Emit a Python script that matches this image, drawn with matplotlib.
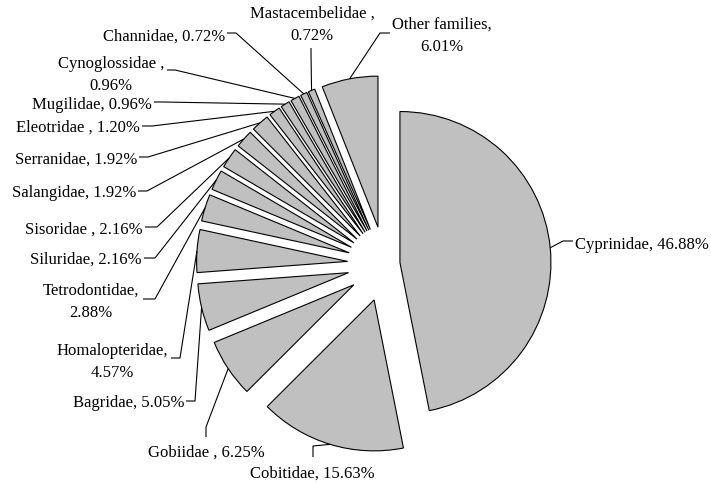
import numpy as np
import matplotlib
matplotlib.use("Agg")
import matplotlib.pyplot as plt

# ---- data ----
families = ['Cyprinidae', 'Cobitidae', 'Gobiidae', 'Bagridae', 'Homalopteridae',
            'Tetrodontidae', 'Siluridae', 'Sisoridae', 'Salangidae', 'Serranidae',
            'Eleotridae', 'Mugilidae', 'Cynoglossidae', 'Channidae',
            'Mastacembelidae', 'Other families']
shares = [46.88, 15.63, 6.25, 5.05, 4.57, 2.88, 2.16, 2.16, 1.92, 1.92,
          1.20, 0.96, 0.96, 0.72, 0.72, 6.01]
separators = [', ', ', ', ' , ', ', ', ',\n', ',\n', ', ', ' , ', ', ', ', ',
              ' , ', ', ', ' ,\n', ', ', ' ,\n', ',\n']

# ---- layout (pixel coordinates, y measured from the top) ----
W, H = 711, 485
center_px = (385, 265)
radius_px = 151
explode_px = [15] + [37.5] * 15
# text position, horizontal alignment, leader anchor, leader elbow
label_layout = [
    ((575, 245), 'left',   (573, 242), (563, 242)),
    ((312, 474), 'center', (313, 458), (313, 447)),
    ((206, 453), 'center', (206, 438), (206, 428)),
    ((184, 403), 'right',  (186, 402), (195, 402)),
    ((112, 362), 'center', (171, 359), (180, 359)),
    ((91, 302),  'center', (143, 300), (155, 300)),
    ((142, 260), 'right',  (144, 259), (155, 259)),
    ((143, 230), 'right',  (145, 228), (157, 228)),
    ((136, 193), 'right',  (138, 192), (147, 192)),
    ((137, 160), 'right',  (139, 158), (148, 158)),
    ((140, 128), 'right',  (142, 127), (152, 127)),
    ((152, 105), 'right',  (154, 103), (163, 103)),
    ((111, 75),  'center', (167, 71),  (175, 71)),
    ((225, 37),  'right',  (227, 34),  (236, 34)),
    ((312, 25),  'center', (311, 49),  (311, 53)),
    ((442, 36),  'center', (390, 34),  (380, 34)),
]

plt.rcParams['font.family'] = ['Liberation Serif', 'DejaVu Serif']

fig = plt.figure(figsize=(W / 100, H / 100), dpi=100)
ax = fig.add_axes([0, 0, 1, 1])

wedges, _ = ax.pie(shares, startangle=90, counterclock=False,
                   explode=explode_px, radius=radius_px,
                   center=(center_px[0], H - center_px[1]),
                   colors=['#C0C0C0'] * len(shares),
                   wedgeprops=dict(edgecolor='black', linewidth=0.8),
                   labels=None)

ax.set_xlim(0, W)
ax.set_ylim(0, H)
ax.set_aspect('equal')
ax.axis('off')

for w, name, val, sep, (txy, ha, anc, elb) in zip(wedges, families, shares,
                                                  separators, label_layout):
    tm = np.deg2rad(0.5 * (w.theta1 + w.theta2))
    cx, cy = w.center
    ex = cx + w.r * np.cos(tm)
    ey = cy + w.r * np.sin(tm)
    ax.plot([anc[0], elb[0], ex], [H - anc[1], H - elb[1], ey],
            color='black', linewidth=0.8, solid_capstyle='butt')
    ax.text(txy[0], H - txy[1], f"{name}{sep}{val:.2f}%", ha=ha, va='center',
            multialignment='center', fontsize=12, linespacing=1.5,
            color='black')

fig.savefig('out.png', dpi=100)
